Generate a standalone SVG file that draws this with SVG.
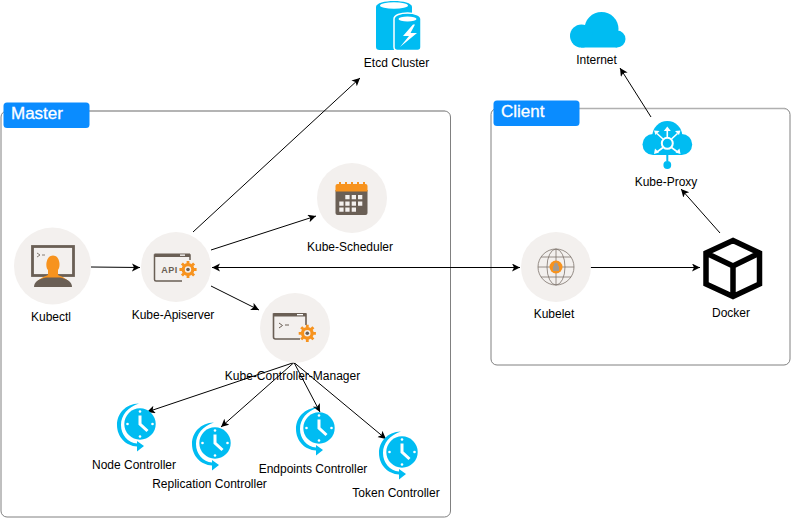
<svg xmlns="http://www.w3.org/2000/svg" xmlns:xlink="http://www.w3.org/1999/xlink" width="792" height="519" viewBox="0 0 792 519">
<style>
text{font-family:"Liberation Sans",Arial,sans-serif;font-size:12px;fill:#000;text-anchor:middle}
.title{font-size:17px;fill:#fff;text-anchor:start;stroke:#fff;stroke-width:.3}
.box{fill:#fff;stroke:#808080;stroke-width:1}
.top{fill:none;stroke:#b0b0b0;stroke-width:1.4}
.tab{fill:#0a8cff}
.disc{fill:#f3f0ee}
.ic{fill:#6a5f55}
.or{fill:#f7931e}
.bl{fill:#00bcf2}
.cn line{stroke:#000;stroke-width:1;marker-end:url(#ah)}
</style>
<defs>
<marker id="ah" markerUnits="userSpaceOnUse" markerWidth="10" markerHeight="10" refX="8" refY="4" orient="auto-start-reverse">
<path d="M0 0L8 4L0 8L2 4Z" fill="#000"/>
</marker>
<g id="gear">
<circle r="4.800" fill="none" stroke="#f7931e" stroke-width="3.200"/>
<circle r="1.800" fill="#6a5f55"/>
<path d="M-1.400-8.600h2.800v3h-2.800zM-1.400 5.600h2.800v3h-2.800zM-8.600-1.400h3v2.800h-3zM5.600-1.400h3v2.800h-3z" fill="#f7931e"/>
<path d="M-1.400-8.600h2.800v3h-2.800zM-1.400 5.600h2.800v3h-2.800zM-8.600-1.400h3v2.800h-3zM5.600-1.400h3v2.800h-3z" fill="#f7931e" transform="rotate(45)"/>
</g>
<g id="clock">
<path d="M-1-20.500C-15-20-23-10-23 1C-23 13-14 22-3 22.500V27.500L4 22L-3 17V19.500C-12 19-19 11-19 1C-19-9-12-17-1-20.500Z" fill="#00bcf2"/>
<circle r="15.700" fill="#00bcf2"/>
<path d="M0-8.500V0L7.500 7" fill="none" stroke="#fff" stroke-width="3"/>
<g fill="#fff"><circle cy="-12.500" r="1.300"/><circle cy="12.500" r="1.300"/><circle cx="-12.500" r="1.300"/><circle cx="12.500" r="1.300"/></g>
</g>
</defs>

<g id="master">
<rect class="box" x="1" y="111" width="449.500" height="406" rx="6"/>
<path class="top" d="M89 111H445"/>
<rect class="tab" x="3.500" y="102.500" width="86" height="25.500" rx="3.500"/>
<text class="title" x="11" y="119">Master</text>
</g>
<g id="client">
<rect class="box" x="491" y="108.500" width="299" height="256.500" rx="6"/>
<path class="top" d="M579 108.500H785"/>
<rect class="tab" x="493.500" y="100.500" width="86" height="25.500" rx="3.500"/>
<text class="title" x="501" y="117">Client</text>
</g>

<g id="connectors" class="cn">
<line x1="91" y1="267" x2="140" y2="267.500"/>
<line x1="193" y1="232" x2="360" y2="78"/>
<line x1="211" y1="250" x2="316" y2="216"/>
<line x1="212" y1="267.500" x2="520" y2="267.500" style="marker-start:url(#ah)"/>
<line x1="211" y1="286" x2="259" y2="310"/>
<line x1="294" y1="362.500" x2="147" y2="412"/>
<line x1="294" y1="362.500" x2="221" y2="427"/>
<line x1="294" y1="362.500" x2="320" y2="412"/>
<line x1="294" y1="362.500" x2="386" y2="439"/>
<line x1="590" y1="267.500" x2="700" y2="267.500"/>
<line x1="720" y1="233" x2="681" y2="189"/>
<line x1="651" y1="117" x2="620" y2="68"/>
</g>

<g id="kubectl">
<circle class="disc" cx="52.500" cy="266" r="38.500"/>
<rect x="32.500" y="246.500" width="41" height="29" fill="none" stroke="#6a5f55" stroke-width="2.800"/>
<path d="M36 286C36 279 44 277 48 275V270C45 267 46 255.500 53 255.500C60 255.500 61 267 58 270V275C62 277 70 279 70 286Z" fill="#f7931e"/>
<path d="M34 287C34 281 40 279 46 277.500H60C66 279 72 281 72 287Z" class="ic"/>
<path d="M37 253l3 2-3 2M42 255h3" fill="none" stroke="#6a5f55" stroke-width=".8"/>
<text x="51" y="321">Kubectl</text>
</g>

<g id="kube-apiserver">
<circle class="disc" cx="176" cy="267" r="35"/>
<path d="M182 281H156Q154.500 281 154.500 279.500V255H190V260" fill="none" stroke="#6a5f55" stroke-width="1.500"/>
<rect x="154.500" y="253.500" width="35.500" height="3.500" class="ic"/>
<rect x="180" y="254.500" width="5" height="1.300" fill="#fff"/>
<text x="169.500" y="272.700" style="font-size:9px;font-weight:bold;fill:#6a5f55;letter-spacing:.5px">API</text>
<use xlink:href="#gear" href="#gear" x="188" y="269.500"/>
<text x="173" y="319">Kube-Apiserver</text>
</g>

<g id="kube-scheduler">
<circle class="disc" cx="352" cy="198" r="35"/>
<path d="M335.500 213V190H367.500V213Q367.500 215 365.500 215H337.500Q335.500 215 335.500 213Z" class="ic"/>
<path d="M335.500 191.500V186Q335.500 184 337.500 184H365.500Q367.500 184 367.500 186V191.500Z" class="or"/>
<path d="M339 182h2v4h-2zM345 182h2v4h-2zM351 182h2v4h-2zM357 182h2v4h-2zM363 182h2v4h-2z" class="or"/>
<path d="M345.300 195h4.300v4.300h-4.300zM351.700 195h4.300v4.300h-4.300zM358 195h4.300v4.300h-4.300zM339.300 201.500h4.300v4.300h-4.300zM345.300 201.500h4.300v4.300h-4.300zM351.700 201.500h4.300v4.300h-4.300zM358 201.500h4.300v4.300h-4.300zM339.300 207.500h4.300v4.300h-4.300zM345.300 207.500h4.300v4.300h-4.300zM351.700 207.500h4.300v4.300h-4.300z" fill="#f3f0ee"/>
<text x="350" y="251">Kube-Scheduler</text>
</g>

<g id="kube-controller-manager">
<circle class="disc" cx="295" cy="328" r="35"/>
<path d="M300 339H275.500Q273.500 339 273.500 337V314H306V325" fill="none" stroke="#6a5f55" stroke-width="1.600"/>
<rect x="273.500" y="313" width="32.500" height="3.500" class="ic"/>
<rect x="297" y="314" width="6" height="1.300" fill="#fff"/>
<path d="M279 323l3.500 2.500-3.500 2.500M285 325h4" fill="none" stroke="#6a5f55" stroke-width="1"/>
<use xlink:href="#gear" href="#gear" x="307.300" y="333.300"/>
<text x="292.500" y="380">Kube-Controller-Manager</text>
</g>

<g id="node-controller"><use xlink:href="#clock" href="#clock" x="140" y="424"/><text x="134" y="469">Node Controller</text></g>
<g id="replication-controller"><use xlink:href="#clock" href="#clock" x="215" y="443"/><text x="209.500" y="488">Replication Controller</text></g>
<g id="endpoints-controller"><use xlink:href="#clock" href="#clock" x="319" y="428"/><text x="313" y="473">Endpoints Controller</text></g>
<g id="token-controller"><use xlink:href="#clock" href="#clock" x="402" y="452"/><text x="396" y="497">Token Controller</text></g>

<g id="etcd-cluster">
<path d="M376 7C376-1 412-1 412 7V47Q412 50 408.500 50H379.500Q376 50 376 47Z" class="bl"/>
<ellipse cx="394" cy="5.500" rx="14" ry="3.300" fill="#fff"/>
<path d="M394 19C394 11 421 11 421 19V47Q421 50.500 417.500 50.500H397.500Q394 50.500 394 47Z" class="bl" stroke="#fff" stroke-width="1.500"/>
<ellipse cx="407.500" cy="19" rx="9" ry="2.500" fill="#fff"/>
<path d="M413 24.500L403 36H409L400 47L417 33H410.500L415 24.500Z" fill="#fff"/>
<text x="396.500" y="67">Etcd Cluster</text>
</g>

<g id="internet">
<g class="bl">
<circle cx="601.500" cy="29" r="17"/>
<circle cx="581.500" cy="36" r="11.500"/>
<circle cx="617" cy="39" r="8.500"/>
<rect x="581" y="35" width="36" height="12.500"/>
</g>
<text x="596.500" y="64">Internet</text>
</g>

<g id="kube-proxy">
<g class="bl">
<circle cx="667.300" cy="136" r="15"/>
<circle cx="653" cy="144.500" r="10.500"/>
<circle cx="681.700" cy="144.500" r="10.500"/>
<rect x="653" y="140" width="29" height="15"/>
</g>
<path d="M667.300 155V161" stroke="#00bcf2" stroke-width="2"/>
<circle cx="667.300" cy="165" r="3.900" class="bl"/>
<circle cx="667.300" cy="143.300" r="5.500" fill="none" stroke="#fff" stroke-width="2"/>
<path d="M667.300 137V130M663 139L657 133.500M671.500 139L677.500 133.500M663 147.500L657 152M671.500 147.500L677.500 152" stroke="#fff" stroke-width="1.600"/>
<path d="M667.300 126.500l3.500 4.500h-7zM654 130.500l5.500 .5-4 4zM680.500 130.500l-5.500 .5 4 4zM654 154l1-5.500 4 4zM680.500 154l-1-5.500-4 4z" fill="#fff"/>
<text x="666" y="186">Kube-Proxy</text>
</g>

<g id="kubelet">
<circle class="disc" cx="556" cy="267" r="35"/>
<g fill="none" stroke="#7d746c" stroke-width=".8">
<circle cx="556" cy="267" r="18"/><ellipse cx="556" cy="267" rx="9" ry="18"/>
<path d="M556 249V285M538 267H574M541 257H571M541 277H571"/>
</g>
<circle cx="556" cy="267" r="6.500" class="or"/>
<path d="M554 266V264.500C554 262 558 262 558 264.500V266H559V271H553V266Z" fill="#a39a90"/>
<text x="554" y="318">Kubelet</text>
</g>

<g id="docker">
<path d="M733 240.500L759.500 253V284L733 296.500L706 284V253ZM706 253L733 266L759.500 253M733 266V296.500" fill="none" stroke="#000" stroke-width="5.500" stroke-linejoin="miter"/>
<text x="731" y="317">Docker</text>
</g>
</svg>
